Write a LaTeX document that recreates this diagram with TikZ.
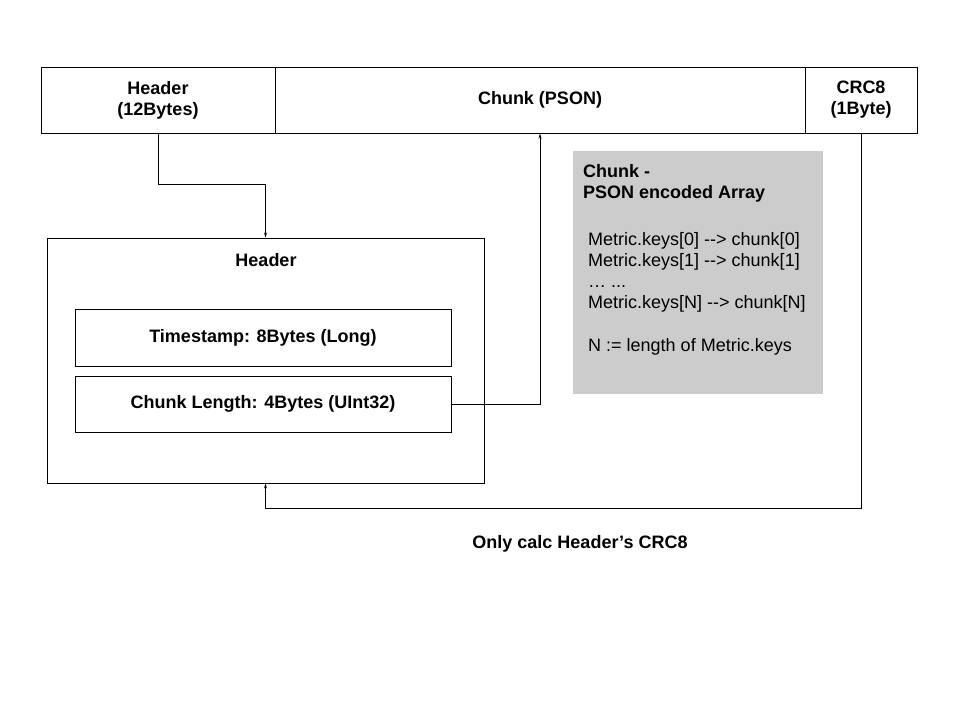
\documentclass[tikz,border=0pt]{standalone}
\usepackage{fontspec}
\setmainfont{Liberation Sans}
\usetikzlibrary{arrows.meta}
\definecolor{notegray}{RGB}{204,204,204}
\newcommand*{\diagfont}{\fontsize{18}{21}\selectfont}
\tikzset{
  field/.style={draw, line width=1pt, inner sep=0pt, align=center, font=\diagfont\bfseries},
  conn/.style={line width=1pt, -{Stealth[length=5pt,width=3pt]}},
}
\begin{document}
\begin{tikzpicture}[x=1pt, y=-1pt, font=\diagfont]
\useasboundingbox (0,0) rectangle (960,720);

% packet layout
\node[field, minimum width=234, minimum height=66] (hdr) at (158,100) {Header\\(12Bytes)};
\node[field, minimum width=530, minimum height=66] (chunk) at (540,100) {Chunk (PSON)};
\node[field, minimum width=112, minimum height=66] (crc) at (861,100) {CRC8\\(1Byte)};

% header detail
\node[draw, line width=1pt, minimum width=437, minimum height=245] (hbox) at (265.5,360.5) {};
\node[font=\diagfont\bfseries] (htitle) at (266,260) {Header};
\node[field, minimum width=376, minimum height=57] (stamp) at (263,337.5) {Timestamp: 8Bytes (Long)};
\node[field, minimum width=376, minimum height=56] (len) at (263,404) {Chunk Length: 4Bytes (UInt32)};

% chunk note
\node[fill=notegray, minimum width=250, minimum height=243] (note) at (698,272.5) {};
\node[anchor=north west, align=left, inner sep=0pt] (notetext) at (583,164) {%
  \textbf{Chunk -}\\
  \textbf{PSON encoded Array}\\[26pt]
  \ Metric.keys[0] -{}-> chunk[0]\\
  \ Metric.keys[1] -{}-> chunk[1]\\
  \ \dots\ ...\\
  \ Metric.keys[N] -{}-> chunk[N]\\[22pt]
  \ N := length of Metric.keys};

\node[font=\diagfont\bfseries] (crcnote) at (580,544) {Only calc Header’s CRC8};

% connectors
\draw[conn] (hdr.south) -- ++(0,51) -| (hbox.north);
\draw[conn] (len.east) -| (chunk.south);
\draw[conn] (crc.south) -- ++(0,375) -| (hbox.south);

\end{tikzpicture}
\end{document}
